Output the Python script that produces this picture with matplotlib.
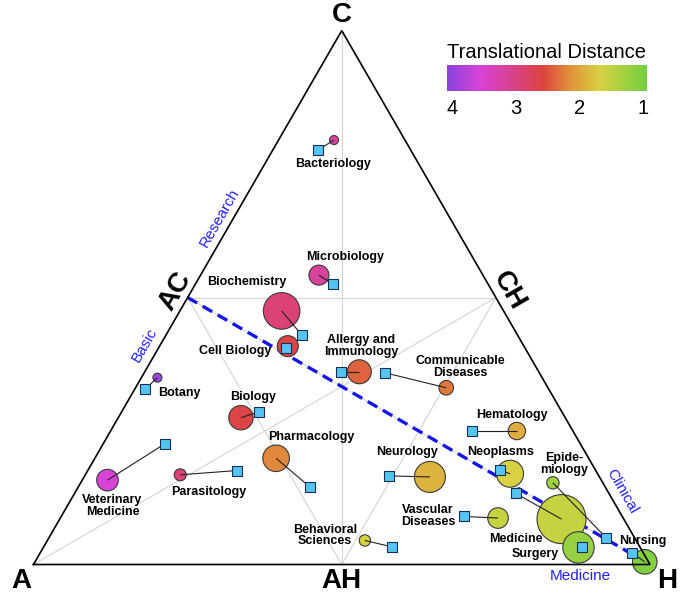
import numpy as np
import matplotlib.pyplot as plt
from matplotlib.colors import LinearSegmentedColormap, Normalize
from matplotlib.collections import LineCollection

plt.rcParams['font.family'] = ['Liberation Sans', 'DejaVu Sans']

# fields, ternary position of the circle and of its square (C and H shares, A = rest)
fields = ["Bacteriology", "Microbiology", "Biochemistry", "Cell Biology",
          "Allergy and\nImmunology", "Communicable\nDiseases", "Hematology",
          "Neurology", "Neoplasms", "Vascular\nDiseases", "Behavioral\nSciences",
          "Epide-\nmiology", "Medicine", "Surgery", "Nursing", "Botany",
          "Biology", "Pharmacology", "Veterinary\nMedicine", "Parasitology"]
circle_c = [0.795, 0.542, 0.475, 0.409, 0.361, 0.331, 0.250, 0.164, 0.170, 0.087,
            0.045, 0.153, 0.085, 0.032, 0.005, 0.350, 0.275, 0.199, 0.158, 0.168]
circle_h = [0.090, 0.192, 0.165, 0.208, 0.348, 0.504, 0.659, 0.561, 0.688, 0.710,
            0.515, 0.766, 0.814, 0.868, 0.989, 0.026, 0.199, 0.294, 0.041, 0.154]
square_c = [0.776, 0.525, 0.430, 0.406, 0.361, 0.359, 0.250, 0.166, 0.177, 0.090,
            0.033, 0.050, 0.133, 0.032, 0.022, 0.329, 0.286, 0.145, 0.226, 0.176]
square_h = [0.073, 0.223, 0.220, 0.207, 0.319, 0.391, 0.587, 0.493, 0.668, 0.654,
            0.565, 0.904, 0.716, 0.873, 0.960, 0.017, 0.223, 0.376, 0.100, 0.242]
# bubble radius and translational distance
radius = [4.5, 10, 18.3, 10.5, 12, 7.3, 8.7, 15.5, 13.5, 10.3,
          5.7, 6.2, 24.5, 15.7, 12.3, 4.5, 12.2, 13.3, 10.8, 6]
distance = [3.2, 3.15, 2.9, 2.6, 2.4, 2.28, 1.95, 1.9, 1.68, 1.55,
            1.65, 1.25, 1.55, 1.2, 1.05, 3.95, 2.6, 2.2, 3.55, 2.9]

# label offsets in pixels from the circle centre (x right, y up)
label_off = [(-1, -24), (26, 18), (-35, 29), (-53, -5), (2, 26), (14, 21), (-5, 16),
             (-23, 25), (-9, 22), (-70, 2), (-40, 5), (11, 19), (-46, -20), (-43, -7),
             (-2, 21), (22, -15), (12, 21), (35, 21), (5, -26), (29, -17)]

cb_ticks = [4, 3, 2, 1]
cb_lo, cb_hi = 0.94, 4.08
stops = [(cb_lo, '#72d040'), (1.68, '#d8d242'), (2.15, '#e2903c'), (2.57, '#dc4440'),
         (3.04, '#d9428a'), (3.56, '#d843d8'), (cb_hi, '#8a44de')]
cmap = LinearSegmentedColormap.from_list(
    'td', [((v - cb_lo) / (cb_hi - cb_lo), c) for v, c in stops])
norm = Normalize(cb_lo, cb_hi)


def tern(c, h):
    c = np.asarray(c, float)
    h = np.asarray(h, float)
    return h + c / 2, c * np.sqrt(3) / 2


S = 616.5
fig = plt.figure(figsize=(6.85, 5.99), dpi=100)
ax = fig.add_axes([0, 0, 1, 1])
ax.set_xlim(-33.5 / S, 651.5 / S)
ax.set_ylim(-34.5 / S, 564.5 / S)
ax.axis('off')

A = tern(0, 0)
H = tern(0, 1)
C = tern(1, 0)
AC = tern(0.5, 0)
CH = tern(0.5, 0.5)
AH = tern(0, 0.5)

grey = '#d4d4d4'
for p, q in [(AC, CH), (AC, AH), (CH, AH), (C, AH), (A, CH), (H, AC)]:
    ax.plot([p[0], q[0]], [p[1], q[1]], color=grey, lw=0.8, zorder=1)
ax.plot([AC[0], H[0]], [AC[1], H[1]], color='#1515e6', lw=2.4,
        dashes=(3.3, 1.9), zorder=2)
ax.plot([A[0], H[0], C[0], A[0]], [A[1], H[1], C[1], A[1]], color='black',
        lw=1.2, zorder=6, solid_joinstyle='miter')

cx, cy = tern(circle_c, circle_h)
sx, sy = tern(square_c, square_h)
r = np.array(radius)
ax.scatter(cx, cy, s=(1.44 * r) ** 2, c=distance, cmap=cmap, norm=norm,
           edgecolors='#3a3a3a', linewidths=0.8, zorder=3)
segs = [[(a, b), (c, d)] for a, b, c, d in zip(cx, cy, sx, sy)]
ax.add_collection(LineCollection(segs, colors='#222222', linewidths=0.8, zorder=4))
ax.scatter(sx, sy, s=52, marker='s', color='#55c4f2', edgecolors='#1a3050',
           linewidths=0.8, zorder=5)

for name, x, y, off in zip(fields, cx, cy, label_off):
    ax.annotate(name, (x, y), xytext=off, textcoords='offset pixels',
                ha='center', va='center', fontsize=9, fontweight='bold',
                linespacing=0.95, zorder=7)

# corner and midpoint labels
big = dict(fontsize=20, fontweight='bold', ha='center', va='center',
           textcoords='offset pixels')
ax.annotate('A', A, xytext=(-12, -16), **big)
ax.annotate('C', C, xytext=(0, 16), **big)
ax.annotate('H', H, xytext=(17, -17), **big)
ax.annotate('AH', AH, xytext=(0, -16), **big)
ax.annotate('AC', AC, xytext=(-12, 6), rotation=60, **big)
ax.annotate('CH', CH, xytext=(13, 7), rotation=-60, **big)

blue = dict(fontsize=11, color='#2222ee', ha='center', va='center',
            textcoords='offset pixels')
ax.annotate('Research', tern(0.638, 0), xytext=(-10.5, 6), rotation=60, **blue)
ax.annotate('Basic', tern(0.399, 0), xytext=(-12, 7), rotation=60, **blue)
ax.annotate('Clinical', tern(0.125, 0.875), xytext=(11, 6), rotation=-60, **blue)
ax.annotate('Medicine', tern(0, 0.8876), xytext=(0, -12), **blue)

# colour bar
cax = fig.add_axes([446.7 / 685, 1 - 90.7 / 599, 200 / 685, 25.7 / 599])
grad = np.linspace(cb_hi, cb_lo, 400)[None, :]
cax.imshow(grad, cmap=cmap, norm=norm, aspect='auto',
           extent=(cb_hi, cb_lo, 0, 1))
cax.set_xlim(cb_hi, cb_lo)
cax.axis('off')
for t in cb_ticks:
    cax.text(t, -0.7, str(t), ha='center', va='center', fontsize=14.5)
cax.text((cb_hi + cb_lo) / 2, 1.5, 'Translational Distance', ha='center',
         va='center', fontsize=14.5)

fig.savefig('out.png', dpi=100)
